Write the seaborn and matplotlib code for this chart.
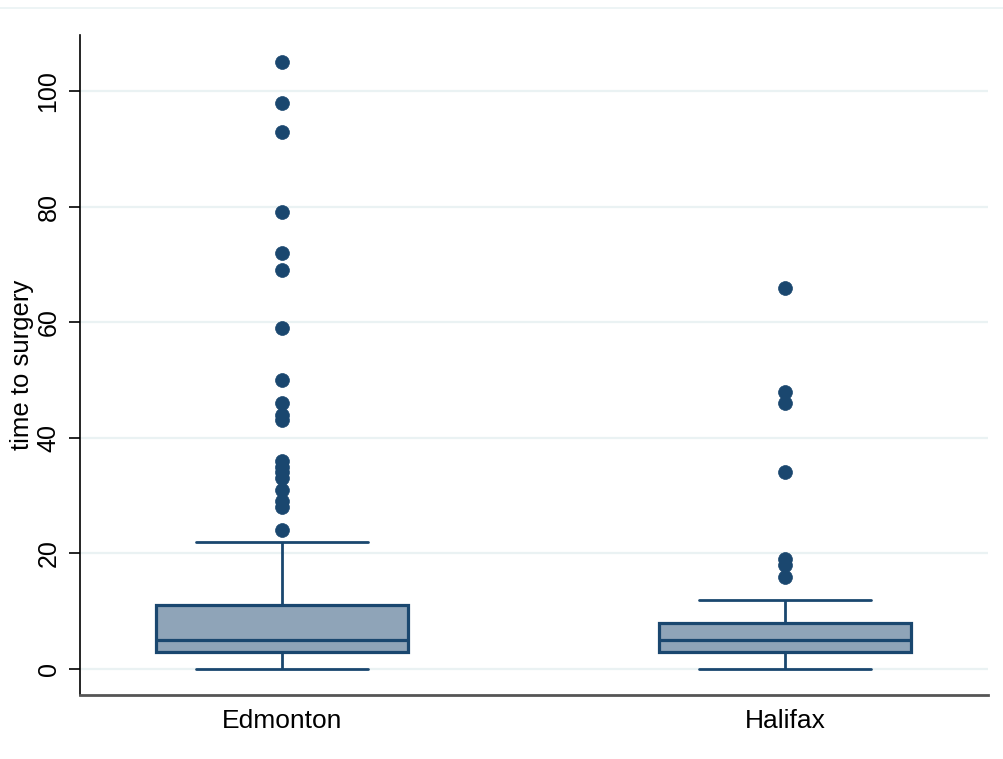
import numpy as np
import pandas as pd
import matplotlib
matplotlib.use("Agg")
import matplotlib.pyplot as plt
from matplotlib.lines import Line2D
import seaborn as sns

# Days from referral to surgery, by centre (value -> number of patients)
cities = ["Edmonton", "Halifax"]

edmonton_days = [0, 1, 2, 3, 4, 5, 6, 7, 8, 9, 10, 11, 14, 16, 19, 22,
                 24, 28, 29, 31, 33, 34, 35, 36, 43, 44, 46, 50, 59, 69, 72, 79, 93, 98, 105]
edmonton_counts = [4, 8, 10, 10, 12, 10, 6, 5, 4, 3, 2, 3, 1, 1, 1, 1,
                   1, 1, 1, 1, 1, 1, 1, 1, 1, 1, 1, 1, 1, 1, 1, 1, 1, 1, 1]

halifax_days = [0, 1, 2, 3, 4, 5, 6, 7, 8, 9, 10, 11, 12,
                16, 18, 19, 34, 46, 48, 66]
halifax_counts = [3, 4, 6, 6, 8, 7, 6, 4, 3, 2, 2, 1, 1,
                  1, 1, 1, 1, 1, 1, 1]

y_ticks = [0, 20, 40, 60, 80, 100]

df = pd.DataFrame({
    "city": ["Edmonton"] * sum(edmonton_counts) + ["Halifax"] * sum(halifax_counts),
    "days": np.concatenate([np.repeat(edmonton_days, edmonton_counts),
                            np.repeat(halifax_days, halifax_counts)]),
})

navy = "#1a476f"
fill = "#8fa4b8"

sns.set_style("white")
plt.rcParams["font.family"] = ["Liberation Sans", "DejaVu Sans"]
plt.rcParams["text.color"] = "black"
plt.rcParams["axes.labelcolor"] = "black"
plt.rcParams["xtick.color"] = "black"
plt.rcParams["ytick.color"] = "black"

fig = plt.figure(figsize=(10.04, 7.59), dpi=100)
ax = fig.add_axes([80 / 1004, 64 / 759, 908 / 1004, 660 / 759])

sns.boxplot(
    data=df, x="city", y="days", order=cities, ax=ax,
    color=fill, saturation=1, linecolor=navy, linewidth=2.0,
    width=0.5, whis=1.5, capwidths=0.34,
    flierprops=dict(marker="o", markersize=10, markerfacecolor=navy,
                    markeredgecolor=navy, markeredgewidth=0.5),
    boxprops=dict(linewidth=2.3), medianprops=dict(linewidth=2.3),
)

ax.set_xlim(-0.4016, 1.4036)
ax.set_ylim(-4.5, 109.7)
ax.set_yticks(y_ticks)
ax.set_yticklabels([str(t) for t in y_ticks], rotation=90, va="center", fontsize=18)
ax.tick_params(axis="y", length=8, width=1.2, color="black", pad=6, left=True,
               labelcolor="black")
ax.tick_params(axis="x", length=0, pad=10, labelsize=19, labelcolor="black")
ax.set_xlabel("")
ax.set_ylabel("time to surgery", fontsize=18.5, labelpad=1.5, color="black")

ax.grid(axis="y", color="#eaf2f3", linewidth=1.6)
ax.set_axisbelow(True)
for side in ("top", "right"):
    ax.spines[side].set_visible(False)
ax.spines["left"].set_color("black")
ax.spines["left"].set_linewidth(1.2)
ax.spines["bottom"].set_color("#555555")
ax.spines["bottom"].set_linewidth(2.0)

# thin outline of the graph region at the top
fig.add_artist(Line2D([0, 1], [1 - 8 / 759, 1 - 8 / 759], color="#eaf2f3",
                      linewidth=1.2, transform=fig.transFigure))

fig.savefig("out.png", dpi=100, facecolor="white")
